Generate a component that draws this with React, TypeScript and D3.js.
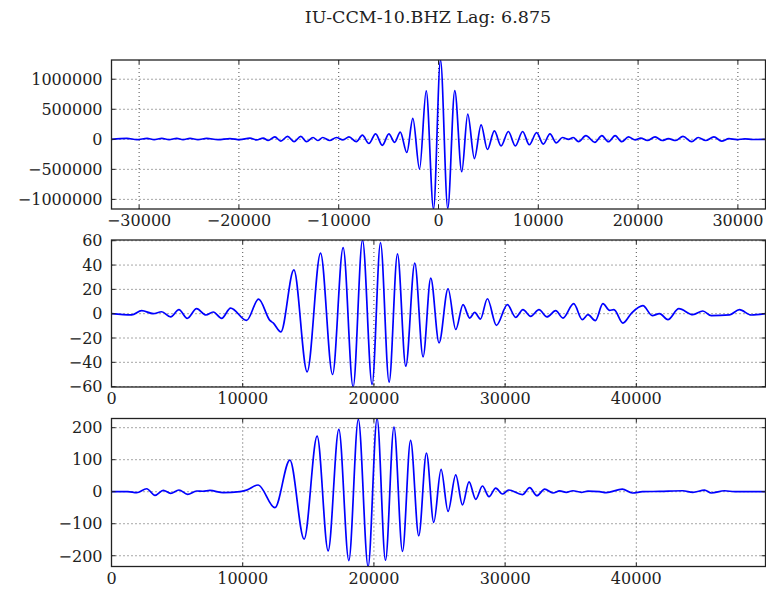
import { useEffect, useRef } from 'react';
import * as d3 from 'd3';

const TITLE = 'IU-CCM-10.BHZ Lag: 6.875';

// top panel: cross-correlation (lag in samples, amplitude)
const xcorrLag = [
  -32768, -31230, -30200, -29200, -28500, -27730, -27000, -26230, -25600, -24900, -24100, -23230,
  -22100, -20900, -19900, -18900, -18230, -17570, -17070, -16400, -15800, -15130, -14470, -13800,
  -13230, -12570, -12100, -11600, -10900, -10230, -9570, -8970, -8230, -7630, -6970, -6300, -5630,
  -4970, -4400, -3830, -3170, -2570, -1900, -1230, -500, 200, 930, 1630, 2330, 2930, 3600, 4270,
  4900, 5600, 6270, 7000, 7700, 8430, 9100, 9830, 10500, 11170, 11800, 12430, 13030, 13500, 14030,
  14770, 15670, 16370, 17030, 17700, 18370, 19030, 19700, 20270, 20930, 21700, 22430, 23030, 23770,
  24500, 25370, 26030, 26770, 27600, 28370, 29100, 29900, 30700, 31500, 32767,
];
const xcorrAmp = [
  0, 15000, -5000, 15000, -5000, 15000, -5000, 15000, -5000, 15000, -5000, 15000,
  -5000, 12000, -5000, 20000, -10000, 20000, -20000, 40000, -30000, 50000, -40000, 50000,
  -40000, 30000, -20000, 30000, -20000, 30000, -10000, 40000, -40000, 70000, -70000, 90000, -100000,
  90000, -50000, 120000, -220000, 350000, -495000, 805000, -1160000, 1320000, -1150000, 810000, -540000, 420000, -320000, 240000,
  -170000, 140000, -110000, 130000, -110000, 130000, -90000, 110000, -80000, 90000, -60000, 30000, 0, 30000, -40000,
  60000, -50000, 60000, -40000, 60000, -40000, 40000, -10000, 20000, -20000, 40000, -20000, 10000, -20000,
  50000, -40000, 30000, -20000, 40000, -30000, 10000, -5000, 8000, -3000, 0,
];

// middle panel: trace 1 (sample, amplitude)
const trace1Sample = [
  0, 1538, 2300, 3183, 3823, 4509, 5141, 5773, 6489, 7197, 7753, 8393, 9078, 10297, 11211, 12071,
  12323, 12909, 13899, 14912, 15933, 16847, 17654, 18416, 19131, 19863, 20502, 21158, 21797, 22429,
  23115, 23747, 24333, 24966, 25651, 26237, 26793, 27303, 27684, 28118, 28651, 29336, 30174, 30806,
  31362, 31949, 32581, 33190, 33853, 34409, 35224, 35886, 36313, 36877, 37455, 37966, 38293, 38979,
  39641, 40502, 41217, 41773, 42405, 43243, 44309, 45071, 45711, 47105, 47866, 48757, 49846,
];
const trace1Amp = [
  0, -1, 2.5, 0, 1.6, -2.7, 3.3, -3.8, 4.1, -1.1, 1.4, -3.8, 4.6, -5.5, 12, -5.5,
  -7.6, -15, 36, -47.8, 49.8, -50, 54.4, -60.3, 60.6, -58.2, 58.5, -56.3, 49.2, -43.2,
  41.6, -35.5, 29.3, -24, 20.5, -13, 7.4, -3.6, 1, -4.4, 12.3, -9.6, 7.4, -3,
  3.3, -2.2, 3.3, -2.7, 2.5, -3.6, 8.2, -4.9, -0.8, -5.7, 8.2, 2.7, 3.3, -7.7,
  0.5, 6.6, -1.6, 0, -4.9, 4.1, -0.8, 2.2, -1.6, -1, 3.3, -1.1, 0,
];

// bottom panel: trace 2 (sample, amplitude)
const trace2Sample = [
  0, 1257, 1919, 2681, 3313, 3945, 4509, 5141, 5803, 6489, 6969, 7502, 8515, 9787, 10297, 11180,
  12452, 13595, 14684, 15674, 16512, 17327, 18088, 18812, 19558, 20243, 20883, 21530, 22178, 22795,
  23419, 24005, 24561, 25118, 25651, 26237, 26747, 27250, 27760, 28270, 28773, 29283, 29793, 30273,
  31316, 31872, 32428, 33013, 33646, 34155, 34665, 35168, 35808, 36313, 37204, 37714, 38933, 39695,
  40480, 41773, 43548, 44309, 45201, 45711, 46724, 47486, 49846,
];
const trace2Amp = [
  0, 0.5, -3, 9.3, -11.4, 4.4, -5, 5.3, -8.2, 2.2, 1.5, 4, -3, 0, 5, 21,
  -50, 98.7, -148, 173.5, -184.7, 195, -215, 226, -233.6, 228.7, -214, 202, -186.5, 160.5,
  -137.5, 121, -96, 70, -61.5, 52.5, -41.5, 31, -23.7, 17.8, -15.6, 11.4, -7.2, 5.3,
  -9.3, 12.5, -12.5, 8.3, -4, 2.7, -2, 3, -2, 2, 0, -3, 8, -4,
  0, 1, 3, -2, 5, -4, 3, 0, 0,
];

const xTicksTop = [-30000, -20000, -10000, 0, 10000, 20000, 30000];
const yTicksTop = [-1000000, -500000, 0, 500000, 1000000];
const xTicksTrace = [0, 10000, 20000, 30000, 40000];
const yTicksMid = [-60, -40, -20, 0, 20, 40, 60];
const yTicksBot = [-200, -100, 0, 100, 200];

const WIDTH = 766;
const HEIGHT = 591;
const FONT = '"DejaVu Serif", serif';

interface Panel {
  xs: number[];
  ys: number[];
  xDomain: [number, number];
  yDomain: [number, number];
  xTicks: number[];
  yTicks: number[];
  top: number;
  bottom: number;
}

const panels: Panel[] = [
  { xs: xcorrLag, ys: xcorrAmp, xDomain: [-32768, 32768], yDomain: [-1160000, 1320000],
    xTicks: xTicksTop, yTicks: yTicksTop, top: 60, bottom: 209 },
  { xs: trace1Sample, ys: trace1Amp, xDomain: [0, 49846], yDomain: [-60.3, 60.6],
    xTicks: xTicksTrace, yTicks: yTicksMid, top: 240, bottom: 387 },
  { xs: trace2Sample, ys: trace2Amp, xDomain: [0, 49846], yDomain: [-233.6, 228.7],
    xTicks: xTicksTrace, yTicks: yTicksBot, top: 418.5, bottom: 566.5 },
];

export default function App() {
  const svgRef = useRef<SVGSVGElement>(null);

  useEffect(() => {
    if (!svgRef.current) return;
    const svg = d3.select(svgRef.current);
    svg.selectAll('*').remove();

    const left = 111.5;
    const right = 765.5;
    const fmt = d3.format('d');

    svg.append('text')
      .attr('x', 428)
      .attr('y', 23)
      .attr('text-anchor', 'middle')
      .style('font-family', FONT)
      .style('font-size', '17.5px')
      .style('fill', '#222')
      .text(TITLE);

    panels.forEach((p, i) => {
      const x = d3.scaleLinear().domain(p.xDomain).range([left, right]);
      const y = d3.scaleLinear().domain(p.yDomain).range([p.bottom, p.top]);
      const g = svg.append('g');

      const clipId = `clip-${i}`;
      g.append('clipPath').attr('id', clipId)
        .append('rect')
        .attr('x', left).attr('y', p.top)
        .attr('width', right - left).attr('height', p.bottom - p.top);

      // dotted grid
      g.append('g')
        .selectAll('line')
        .data(p.xTicks)
        .join('line')
        .attr('x1', d => x(d)).attr('x2', d => x(d))
        .attr('y1', p.top).attr('y2', p.bottom)
        .attr('stroke', '#222').attr('stroke-width', 0.8)
        .attr('stroke-dasharray', '1,3');
      g.append('g')
        .selectAll('line')
        .data(p.yTicks)
        .join('line')
        .attr('x1', left).attr('x2', right)
        .attr('y1', d => y(d)).attr('y2', d => y(d))
        .attr('stroke', '#222').attr('stroke-width', 0.8)
        .attr('stroke-dasharray', '1,3');

      const pts = p.xs.map((v, k) => [v, p.ys[k]] as [number, number]);
      const line = d3.line<[number, number]>()
        .x(d => x(d[0]))
        .y(d => y(d[1]))
        .curve(d3.curveMonotoneX);

      g.append('path')
        .datum(pts)
        .attr('clip-path', `url(#${clipId})`)
        .attr('fill', 'none')
        .attr('stroke', '#0000ff')
        .attr('stroke-width', 1.7)
        .attr('d', line);

      // inward ticks on all four sides
      const tl = 4;
      const ticks = g.append('g').attr('stroke', '#222').attr('stroke-width', 1);
      p.xTicks.forEach(t => {
        ticks.append('line').attr('x1', x(t)).attr('x2', x(t)).attr('y1', p.bottom).attr('y2', p.bottom - tl);
        ticks.append('line').attr('x1', x(t)).attr('x2', x(t)).attr('y1', p.top).attr('y2', p.top + tl);
      });
      p.yTicks.forEach(t => {
        ticks.append('line').attr('x1', left).attr('x2', left + tl).attr('y1', y(t)).attr('y2', y(t));
        ticks.append('line').attr('x1', right).attr('x2', right - tl).attr('y1', y(t)).attr('y2', y(t));
      });

      g.append('rect')
        .attr('x', left).attr('y', p.top)
        .attr('width', right - left).attr('height', p.bottom - p.top)
        .attr('fill', 'none')
        .attr('stroke', '#222')
        .attr('stroke-width', 1.3);

      // tick labels
      g.append('g')
        .selectAll('text')
        .data(p.xTicks)
        .join('text')
        .attr('x', d => x(d))
        .attr('y', p.bottom + 17)
        .attr('text-anchor', 'middle')
        .style('font-family', FONT)
        .style('font-size', '16px')
        .style('fill', '#222')
        .text(d => fmt(d));
      g.append('g')
        .selectAll('text')
        .data(p.yTicks)
        .join('text')
        .attr('x', left - 9)
        .attr('y', d => y(d))
        .attr('dy', '0.36em')
        .attr('text-anchor', 'end')
        .style('font-family', FONT)
        .style('font-size', '16px')
        .style('fill', '#222')
        .text(d => fmt(d));
    });
  }, []);

  return (
    <svg
      ref={svgRef}
      width={WIDTH}
      height={HEIGHT}
      viewBox={`0 0 ${WIDTH} ${HEIGHT}`}
      style={{ position: 'absolute', left: 0, top: 0, background: '#fff' }}
    />
  );
}
